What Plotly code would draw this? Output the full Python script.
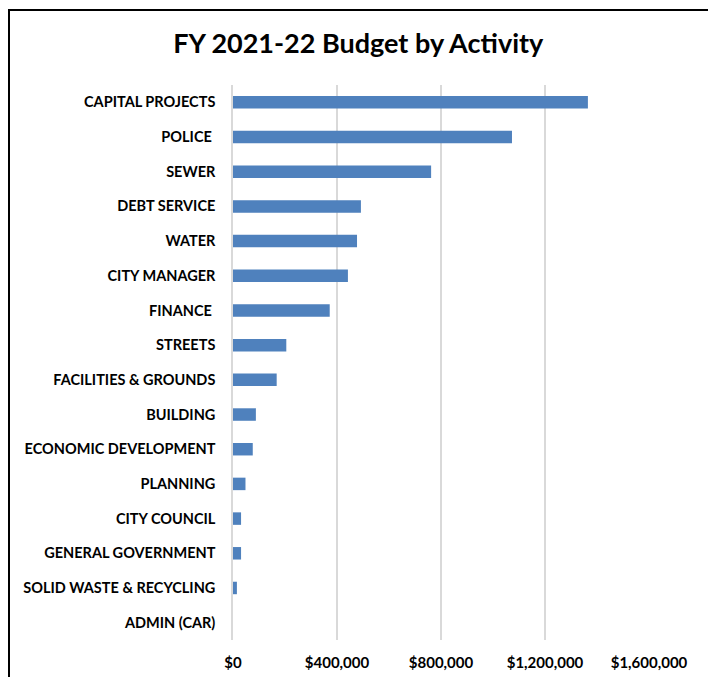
import plotly.graph_objects as go

# Budget by activity, FY 2021-22 (dollars)
activities = [
    "CAPITAL PROJECTS",
    "POLICE\u00a0",
    "SEWER",
    "DEBT SERVICE",
    "WATER",
    "CITY MANAGER",
    "FINANCE\u00a0",
    "STREETS",
    "FACILITIES & GROUNDS",
    "BUILDING",
    "ECONOMIC DEVELOPMENT",
    "PLANNING",
    "CITY COUNCIL",
    "GENERAL GOVERNMENT",
    "SOLID WASTE & RECYCLING",
    "ADMIN (CAR)",
]
budget = [
    1365000, 1073000, 762000, 492000, 477000, 442000, 372000, 205000,
    168000, 88000, 76000, 48000, 31000, 31000, 15000, 0,
]
tick_values = [0, 400000, 800000, 1200000, 1600000]
tick_labels = ["$0", "$400,000", "$800,000", "$1,200,000", "$1,600,000"]

FONT = "Lato"

fig = go.Figure(
    go.Bar(
        x=budget,
        y=activities,
        orientation="h",
        marker=dict(color="#4F81BD", line=dict(width=0)),
        hoverinfo="x+y",
    )
)

fig.update_layout(
    width=708,
    height=677,
    margin=dict(l=233, r=59, t=85, b=37),
    paper_bgcolor="white",
    plot_bgcolor="white",
    bargap=0.64,
    showlegend=False,
    title=dict(
        text="<b>FY 2021-22 Budget by Activity</b>",
        x=0.506,
        xanchor="center",
        y=1 - 44 / 677,
        yanchor="middle",
        font=dict(family=FONT, size=27, color="#000000"),
    ),
    xaxis=dict(
        range=[0, 1600000],
        tickvals=tick_values,
        ticktext=[f"<b>{t}</b>" for t in tick_labels],
        showgrid=True,
        gridcolor="#D9D9D9",
        gridwidth=1.5,
        zeroline=False,
        showline=False,
        ticks="",
        ticklabelstandoff=12,
        automargin=False,
        tickfont=dict(family=FONT, size=15, color="#000000"),
        fixedrange=True,
    ),
    yaxis=dict(
        autorange="reversed",
        tickvals=activities,
        ticktext=[f"<b>{a}</b>" for a in activities],
        showgrid=False,
        zeroline=False,
        showline=True,
        linecolor="#D9D9D9",
        linewidth=1.5,
        ticks="",
        ticklabelstandoff=13,
        automargin=False,
        tickfont=dict(family=FONT, size=14.5, color="#000000"),
        fixedrange=True,
    ),
)

# Chart-area frame (extends past the right and bottom edges of the page)
fig.add_shape(
    type="rect",
    xref="paper",
    yref="paper",
    x0=(9 - 233) / 416,
    x1=2.0,
    y0=-1.0,
    y1=(640 - 10) / 555,
    line=dict(color="#000000", width=2),
    fillcolor="rgba(0,0,0,0)",
    layer="above",
)

fig.write_html("out.html")
